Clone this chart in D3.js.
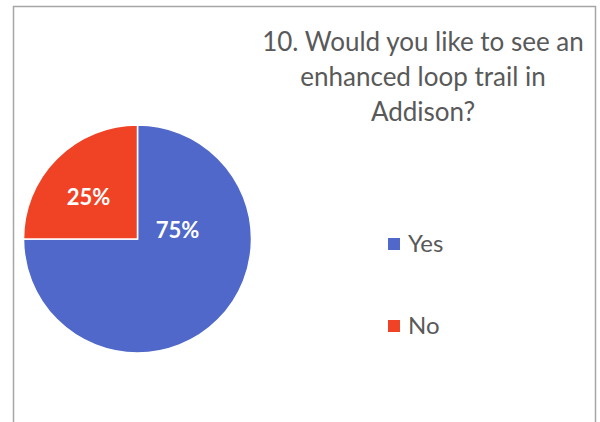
<!DOCTYPE html>
<html><head><meta charset="utf-8">
<script src="https://cdn.jsdelivr.net/npm/d3@7"></script>
<style>html,body{margin:0;padding:0;background:#fff;}svg{display:block;}</style>
</head><body>
<svg id="chart" width="600" height="422"></svg>
<script>
const categories = ["Yes", "No"];
const values = [75, 25];
const labels = ["75%", "25%"];
const titleLines = ["10. Would you like to see an", "enhanced loop trail in", "Addison?"];
const colors = ["#4F68C9", "#F04325"];

const svg = d3.select("#chart");
const font = "Lato, 'Open Sans', sans-serif";

svg.append("path")
  .attr("d", "M13.5,422 V6.5 H595.5 V422")
  .attr("fill", "none").attr("stroke", "#a6a6a6").attr("stroke-width", 1.5);

const cx = 137.5, cy = 239, r = 114;
const pie = d3.pie().sort(null).value(d => d.v);
const arcs = pie(categories.map((c, i) => ({c, v: values[i], l: labels[i]})));
const arc = d3.arc().innerRadius(0).outerRadius(r);
const g = svg.append("g").attr("transform", `translate(${cx},${cy})`);
g.selectAll("path").data(arcs).join("path")
  .attr("d", arc)
  .attr("fill", (d, i) => colors[i])
  .attr("stroke", "#fff").attr("stroke-width", 1.5);

const labelPos = [[40, -1], [-49, -34]];
g.selectAll("text").data(arcs).join("text")
  .attr("x", (d, i) => labelPos[i][0])
  .attr("y", (d, i) => labelPos[i][1])
  .attr("text-anchor", "middle")
  .attr("font-family", font).attr("font-weight", "bold")
  .attr("font-size", 22).attr("fill", "#fff")
  .text(d => d.data.l);

svg.append("g").selectAll("text").data(titleLines).join("text")
  .attr("x", 423).attr("y", (d, i) => 51 + i * 35)
  .attr("text-anchor", "middle")
  .attr("font-family", font).attr("font-size", 26)
  .attr("fill", "#595959")
  .text(d => d);

const leg = svg.append("g").selectAll("g").data(categories).join("g")
  .attr("transform", (d, i) => `translate(388,${238 + i * 82})`);
leg.append("rect").attr("width", 12).attr("height", 12)
  .attr("fill", (d, i) => colors[i]);
leg.append("text").attr("x", 20).attr("y", 14)
  .attr("font-family", font).attr("font-size", 24)
  .attr("fill", "#595959").text(d => d);
</script>
</body></html>
